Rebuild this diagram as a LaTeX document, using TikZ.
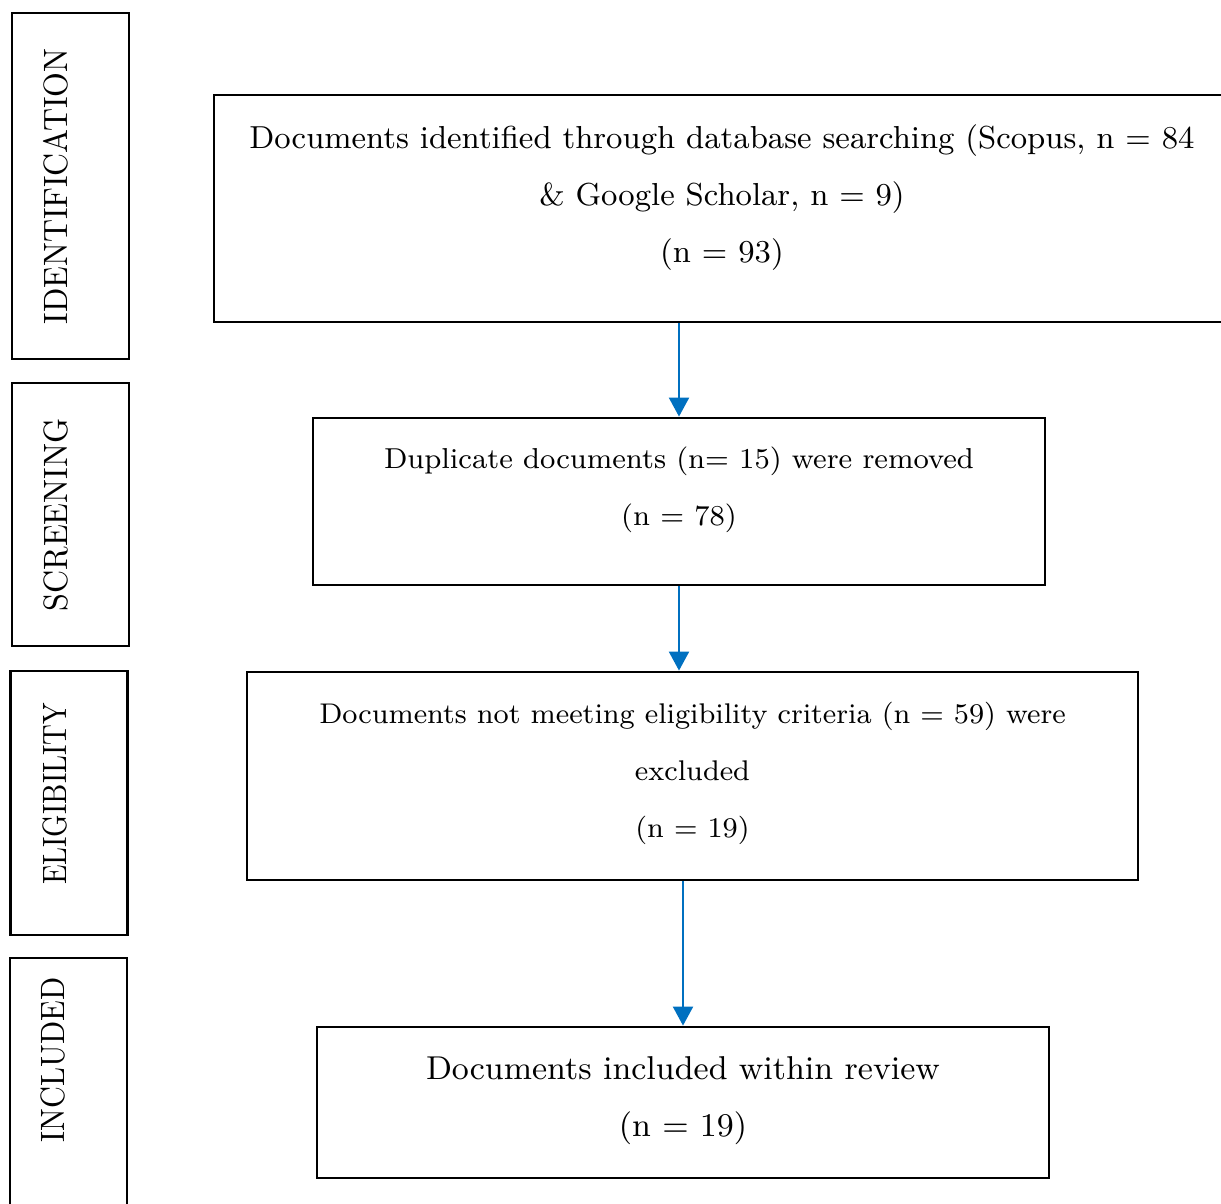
\documentclass[tikz,border=0pt]{standalone}
\usetikzlibrary{arrows.meta}
\definecolor{flowblue}{RGB}{0,112,192}

\tikzset{
	stepbox/.style={draw, line width=0.8pt, align=center, text depth=0.3cm, font=\fontsize{#1}{16.2}\selectfont},
	stepbox/.default=9.3,
	phasebox/.style={draw, line width=0.8pt, minimum width=1.17cm},
	phaselabel/.style={rotate=90, xscale=#1, font=\fontsize{9.6}{11}\selectfont},
	phaselabel/.default=1,
	flow/.style={-{Triangle[length=0.19cm,width=0.2cm]}, flowblue, line width=0.6pt}
}

\begin{document}
\begin{tikzpicture}
\useasboundingbox (0, 0) rectangle (12.21, -12.04);

% phase frames on the left
\node[phasebox, minimum height=3.46cm] (ident) at (0.705, -1.86) {};
\node[phasebox, minimum height=2.63cm] (screen) at (0.705, -5.145) {};
\node[phasebox, minimum height=2.64cm] (elig) at (0.69, -8.03) {};
\node[phasebox, minimum height=2.52cm] (incl) at (0.685, -10.84) {};
\node[phaselabel=0.945] (identtxt) at (0.555, -1.865) {IDENTIFICATION};
\node[phaselabel=0.95] (screentxt) at (0.555, -5.15) {SCREENING};
\node[phaselabel=0.85] (eligtxt) at (0.545, -7.94) {ELIGIBILITY};
\node[phaselabel=0.90] (incltxt) at (0.525, -10.60) {INCLUDED};

% steps
\node[stepbox=9.05, minimum width=10.16cm, minimum height=2.27cm] (found) at (7.22, -2.085)
	{Documents identified through database searching (Scopus, n = 84\\
	\& Google Scholar, n = 9)\\
	(n = 93)};
\node[stepbox=8.2, minimum width=7.32cm, minimum height=1.67cm] (dupl) at (6.79, -5.015)
	{Duplicate documents (n= 15) were removed\\
	(n = 78)};
\node[stepbox=8.1, text depth=0.13cm, minimum width=8.91cm, minimum height=2.08cm] (crit) at (6.925, -7.76)
	{Documents not meeting eligibility criteria (n = 59) were\\
	excluded\\
	(n = 19)};
\node[stepbox=9.4, text depth=0.12cm, minimum width=7.32cm, minimum height=1.51cm] (final) at (6.83, -11.025)
	{Documents included within review\\
	(n = 19)};

\draw[flow] (found.south -| dupl.north) -- (dupl.north);
\draw[flow] (dupl.south) -- (dupl.south |- crit.north);
\draw[flow] (crit.south -| final.north) -- (final.north);

\end{tikzpicture}
\end{document}
